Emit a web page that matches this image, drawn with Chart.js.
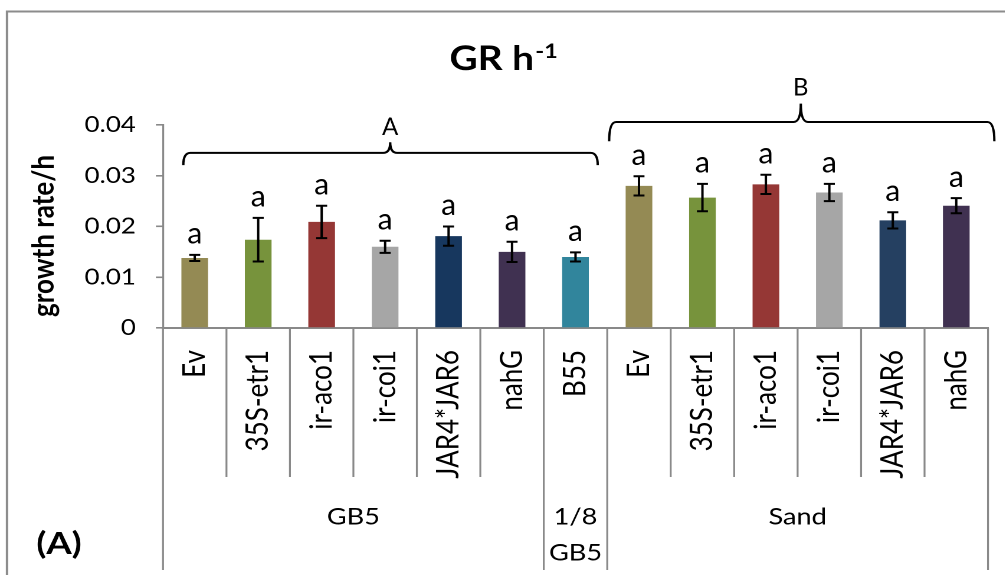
<!DOCTYPE html>
<html>
<head>
<meta charset="utf-8">
<script src="https://cdn.jsdelivr.net/npm/chart.js@4.4.0/dist/chart.umd.min.js"></script>
<style>
  html, body { margin: 0; padding: 0; background: #fff; overflow: hidden; }
  /* the original picture is stretched sideways, so is this one */
  #wrap { width: 852px; height: 575px; transform: scaleX(1.18); transform-origin: 0 0; }
</style>
</head>
<body>
<div id="wrap"><canvas id="grChart"></canvas></div>
<script>
const S = 1.18;

const categories = ['Ev', '35S-etr1', 'ir-aco1', 'ir-coi1', 'JAR4*JAR6', 'nahG', 'B55',
                    'Ev', '35S-etr1', 'ir-aco1', 'ir-coi1', 'JAR4*JAR6', 'nahG'];
const groupNames = ['GB5', '1/8\nGB5', 'Sand'];
const groupSizes = [6, 1, 6];
const growthRate = [0.0138, 0.0174, 0.0209, 0.0160, 0.0181, 0.0150, 0.0140,
                    0.0280, 0.0257, 0.0283, 0.0267, 0.0212, 0.0241];
const stdError   = [0.0006, 0.0043, 0.0032, 0.0012, 0.0019, 0.0020, 0.0009,
                    0.0019, 0.0027, 0.0019, 0.0017, 0.0016, 0.0015];
const letters    = ['a', 'a', 'a', 'a', 'a', 'a', 'a', 'a', 'a', 'a', 'a', 'a', 'a'];
const barColors  = ['#948A54', '#77933C', '#953735', '#A6A6A6', '#17375E', '#403151', '#31859C',
                    '#948A54', '#77933C', '#953735', '#A6A6A6', '#254061', '#403151'];
const yTicks = [0, 0.01, 0.02, 0.03, 0.04];

const axisGrey = '#898989';

function brace(ctx, x0, x1, xm, yl, yEnd, yPk) {
  const r = 7 / S;
  ctx.beginPath();
  ctx.moveTo(x0, yEnd);
  ctx.quadraticCurveTo(x0, yl, x0 + r, yl);
  ctx.lineTo(xm - r, yl);
  ctx.quadraticCurveTo(xm, yl, xm, yPk);
  ctx.quadraticCurveTo(xm, yl, xm + r, yl);
  ctx.lineTo(x1 - r, yl);
  ctx.quadraticCurveTo(x1, yl, x1, yEnd);
  ctx.stroke();
}

// text that was not stretched in the original (typed on top of the chart)
function plainText(ctx, txt, x, y) {
  ctx.save();
  ctx.translate(x, y);
  ctx.scale(1 / S, 1);
  ctx.fillText(txt, 0, 0);
  ctx.restore();
}

const decor = {
  id: 'decor',
  beforeDraw(chart) {
    const ctx = chart.ctx;
    ctx.save();
    ctx.fillStyle = '#fff';
    ctx.fillRect(0, 0, chart.width, chart.height);
    ctx.strokeStyle = '#8c8c8c';
    ctx.lineWidth = 2;
    ctx.strokeRect(7 / S, 11.5, chart.width + 50, chart.height + 50);
    ctx.restore();
  },
  afterDatasetsDraw(chart) {
    const ctx = chart.ctx, x = chart.scales.x, y = chart.scales.y;
    const catW = x.getPixelForValue(1) - x.getPixelForValue(0);
    ctx.save();
    ctx.strokeStyle = '#000';
    ctx.fillStyle = '#000';
    ctx.lineWidth = 2;
    ctx.font = '30px Lato';
    ctx.textAlign = 'center';
    ctx.textBaseline = 'middle';
    growthRate.forEach((v, i) => {
      const cx = x.getPixelForValue(i);
      const top = y.getPixelForValue(v + stdError[i]);
      const bot = y.getPixelForValue(v - stdError[i]);
      const cap = 5.5 / S;
      ctx.beginPath();
      ctx.moveTo(cx, top); ctx.lineTo(cx, bot);
      ctx.moveTo(cx - cap, top); ctx.lineTo(cx + cap, top);
      ctx.moveTo(cx - cap, bot); ctx.lineTo(cx + cap, bot);
      ctx.stroke();
      plainText(ctx, letters[i], cx, top - 21);
    });

    // brackets A and B
    const at = f => x.getPixelForValue(0) + f * catW;
    ctx.font = '24px Lato';
    ctx.lineWidth = 2;
    brace(ctx, at(-0.18), at(6.35), at(3.08), y.getPixelForValue(0.0345),
          y.getPixelForValue(0.0321), y.getPixelForValue(0.0366));
    plainText(ctx, 'A', at(3.08), y.getPixelForValue(0.0396));
    brace(ctx, at(6.53), at(12.6), at(9.55), y.getPixelForValue(0.0406),
          y.getPixelForValue(0.0368), y.getPixelForValue(0.0442));
    plainText(ctx, 'B', at(9.55), y.getPixelForValue(0.0473));
    ctx.restore();
  },
  afterDraw(chart) {
    const ctx = chart.ctx, x = chart.scales.x;
    const catW = x.getPixelForValue(1) - x.getPixelForValue(0);
    const edge = k => x.getPixelForValue(0) - catW / 2 + k * catW;
    const axisY = chart.chartArea.bottom;

    const groupEdges = [0];
    groupSizes.forEach(n => groupEdges.push(groupEdges[groupEdges.length - 1] + n));

    ctx.save();
    ctx.strokeStyle = axisGrey;
    ctx.lineWidth = 1.6;
    for (let k = 0; k <= categories.length; k++) {
      const long = groupEdges.includes(k);
      ctx.beginPath();
      ctx.moveTo(edge(k), axisY);
      ctx.lineTo(edge(k), long ? 570 : 477);
      ctx.stroke();
    }

    ctx.fillStyle = '#000';
    ctx.textAlign = 'center';
    ctx.textBaseline = 'middle';
    ctx.font = '23px Lato';
    groupNames.forEach((name, g) => {
      const cx = (edge(groupEdges[g]) + edge(groupEdges[g + 1])) / 2;
      name.split('\n').forEach((line, j) => ctx.fillText(line, cx, 517 + j * 36));
    });

    ctx.font = 'bold 31px Lato';
    ctx.fillText('(A)', 59 / S, 544);

    // title GR h-1
    ctx.textAlign = 'left';
    ctx.textBaseline = 'alphabetic';
    ctx.font = 'bold 33px Lato';
    const w1 = ctx.measureText('GR h').width;
    ctx.font = 'bold 20px Lato';
    const w2 = ctx.measureText('-1').width;
    const tx = 503 / S - (w1 + w2) / 2;
    ctx.font = 'bold 33px Lato';
    ctx.fillText('GR h', tx, 70);
    ctx.font = 'bold 20px Lato';
    ctx.fillText('-1', tx + w1 + 1, 58);

    // y axis title
    ctx.translate(44 / S, 236);
    ctx.rotate(-Math.PI / 2);
    ctx.textAlign = 'center';
    ctx.textBaseline = 'middle';
    ctx.font = 'bold 26px Lato';
    ctx.fillText('growth rate/h', 0, 0);
    ctx.restore();
  }
};

const ctx = document.getElementById('grChart').getContext('2d');
const chart = new Chart(ctx, {
  type: 'bar',
  data: {
    labels: categories,
    datasets: [{
      data: growthRate,
      backgroundColor: barColors,
      barPercentage: 0.42,
      categoryPercentage: 1
    }]
  },
  options: {
    responsive: true,
    maintainAspectRatio: false,
    animation: false,
    devicePixelRatio: 2,
    layout: { padding: { top: 125, right: 852 - 988 / S, bottom: 5, left: 0 } },
    plugins: { legend: { display: false }, tooltip: { enabled: false } },
    scales: {
      x: {
        grid: { display: false, drawTicks: false },
        border: { display: true, color: axisGrey, width: 2 },
        ticks: {
          color: '#000', font: { family: 'Lato', size: 26 },
          minRotation: 90, maxRotation: 90, padding: 22, autoSkip: false
        },
        afterFit: s => {
          s.height = 575 - 5 - 328;
          s.paddingLeft = 0;
          s.paddingRight = 0;
        }
      },
      y: {
        min: 0, max: 0.04,
        grid: { drawOnChartArea: false, drawTicks: true, tickLength: 6, color: axisGrey, lineWidth: 1.6 },
        border: { display: true, color: axisGrey, width: 1.6 },
        ticks: {
          color: '#000', font: { family: 'Lato', size: 22 }, padding: 17,
          callback: v => v === 0 ? '0' : v.toFixed(2)
        },
        afterBuildTicks: s => { s.ticks = yTicks.map(v => ({ value: v })); },
        afterFit: s => { s.width = 163 / S; }
      }
    }
  },
  plugins: [decor]
});
</script>
</body>
</html>
